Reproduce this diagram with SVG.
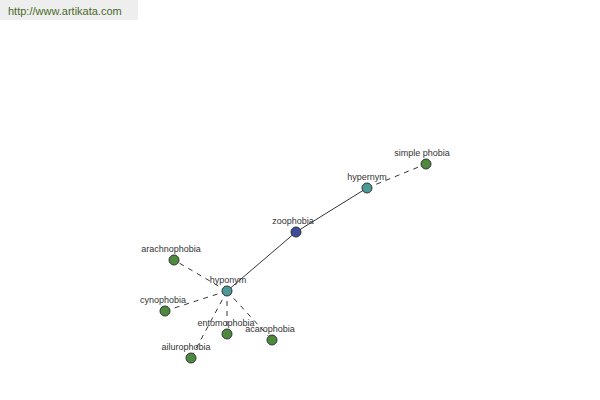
<svg xmlns="http://www.w3.org/2000/svg" width="600" height="400" viewBox="0 0 600 400">
<style>
.lbl{font-family:"Liberation Sans",Arial,sans-serif;font-size:9px;fill:#333;text-anchor:middle}
.n{stroke:#333;stroke-width:1}
.g{fill:#4e8a3e}
.t{fill:#4a9a98}
.b{fill:#3e4c9a}
.s{stroke:#000;stroke-width:0.8;fill:none}
.d{stroke:#000;stroke-width:0.8;fill:none;stroke-dasharray:5,5}
</style>
<rect width="600" height="400" fill="#fff"/>
<rect x="0" y="0" width="138" height="20" fill="#eeeeee"/>
<text x="8" y="15" font-family="Liberation Sans,Arial,sans-serif" font-size="11" fill="#4a6a2a">http://www.artikata.com</text>
<g id="connectors">
<line class="d" x1="367" y1="188" x2="426" y2="164"/>
<line class="s" x1="367" y1="188" x2="296" y2="232"/>
<line class="s" x1="296" y1="232" x2="227" y2="291"/>
<line class="d" x1="227" y1="291" x2="174" y2="260"/>
<line class="d" x1="227" y1="291" x2="165" y2="311"/>
<line class="d" x1="227" y1="291" x2="227" y2="334"/>
<line class="d" x1="227" y1="291" x2="272" y2="340"/>
<line class="d" x1="227" y1="291" x2="191" y2="358"/>
</g>
<g id="simple-phobia"><circle class="n g" cx="426" cy="164" r="5"/><text class="lbl" x="422" y="156">simple phobia</text></g>
<g id="hypernym"><circle class="n t" cx="367" cy="188" r="5"/><text class="lbl" x="367" y="180">hypernym</text></g>
<g id="zoophobia"><circle class="n b" cx="296" cy="232" r="5"/><text class="lbl" x="293" y="224">zoophobia</text></g>
<g id="hyponym"><circle class="n t" cx="227" cy="291" r="5"/><text class="lbl" x="228" y="283">hyponym</text></g>
<g id="arachnophobia"><circle class="n g" cx="174" cy="260" r="5"/><text class="lbl" x="171" y="252">arachnophobia</text></g>
<g id="cynophobia"><circle class="n g" cx="165" cy="311" r="5"/><text class="lbl" x="163" y="303">cynophobia</text></g>
<g id="entomophobia"><circle class="n g" cx="227" cy="334" r="5"/><text class="lbl" x="226" y="326">entomophobia</text></g>
<g id="acarophobia"><circle class="n g" cx="272" cy="340" r="5"/><text class="lbl" x="270" y="332">acarophobia</text></g>
<g id="ailurophobia"><circle class="n g" cx="191" cy="358" r="5"/><text class="lbl" x="186" y="350">ailurophobia</text></g>
</svg>
